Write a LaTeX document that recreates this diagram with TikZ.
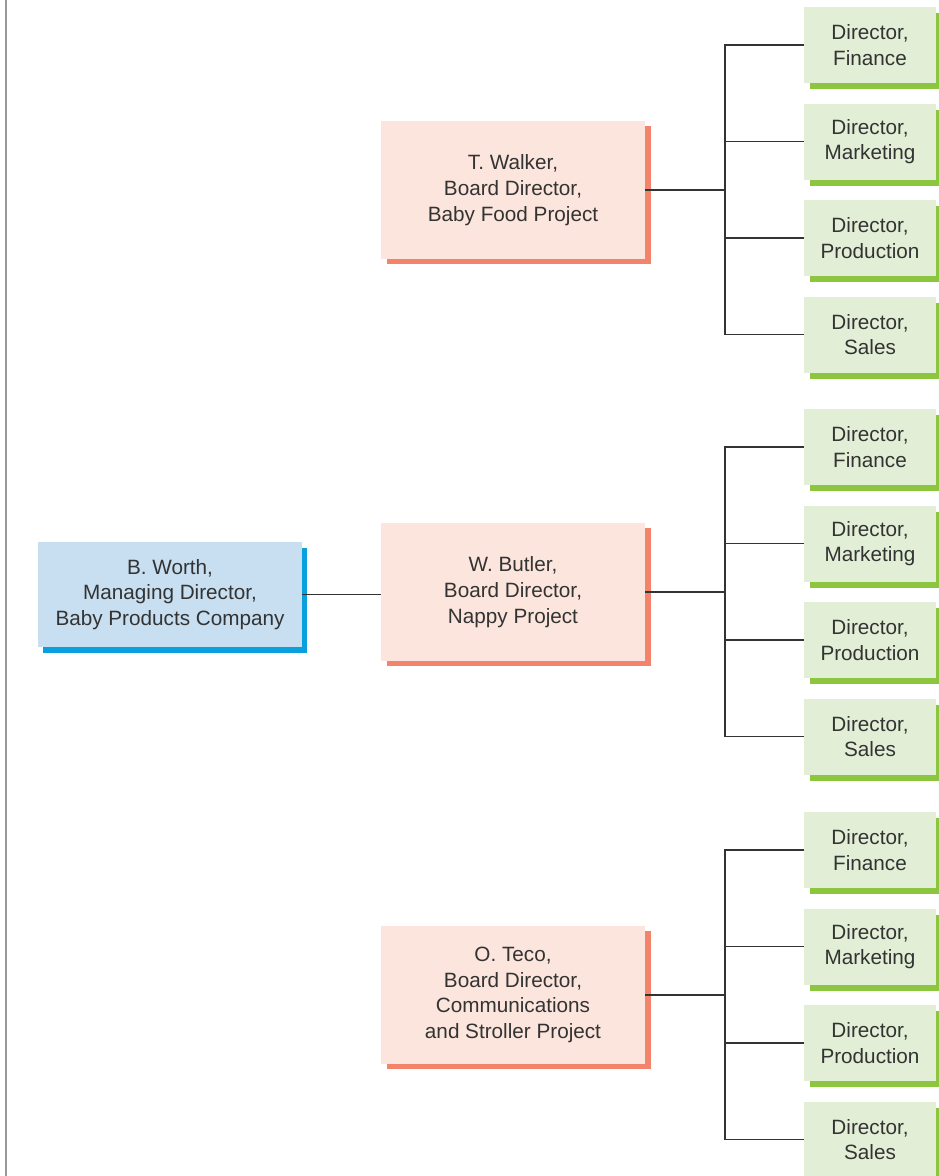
\documentclass[tikz,border=0pt]{standalone}
\usepackage{fontspec}
\setmainfont{Liberation Sans}
\usetikzlibrary{shadows}
\definecolor{txt}{HTML}{333333}
\definecolor{linec}{HTML}{333333}
\definecolor{pinkfill}{HTML}{FCE5DC}
\definecolor{pinkshade}{HTML}{F3836A}
\definecolor{bluefill}{HTML}{C7DFF1}
\definecolor{blueshade}{HTML}{0A9FDD}
\definecolor{greenfill}{HTML}{E2EFD6}
\definecolor{greenshade}{HTML}{8CC63F}
\definecolor{edgegray}{HTML}{999999}
\tikzset{
  boxbase/.style={inner sep=0pt, align=center, text=txt,
    font=\fontsize{20.7pt}{25.7pt}\selectfont},
  topbox/.style={boxbase, fill=bluefill, minimum width=264pt, minimum height=105pt,
    general shadow={fill=blueshade, shadow xshift=5pt, shadow yshift=-6pt}},
  projbox/.style={boxbase, fill=pinkfill, minimum width=264pt, minimum height=138pt,
    general shadow={fill=pinkshade, shadow xshift=6pt, shadow yshift=-5pt}},
  dirbox/.style={boxbase, fill=greenfill, minimum width=132pt, minimum height=76pt,
    general shadow={fill=greenshade, shadow xshift=6pt, shadow yshift=-6pt}},
  conn/.style={draw=linec, line width=1.1pt},
}
\begin{document}
\begin{tikzpicture}[x=1pt,y=-1pt]
\clip (0,0) rectangle (939,1176);
\fill[white] (0,0) rectangle (939,1176);
\draw[edgegray, line width=2pt] (6,-5) -- (6,1185);

\node[topbox] (bw) at (170,594.5) {B. Worth,\\Managing Director,\\Baby Products Company};

\node[projbox] (p1) at (513,190) {T. Walker,\\Board Director,\\Baby Food Project};
\node[projbox] (p2) at (513,592) {W. Butler,\\Board Director,\\Nappy Project};
\node[projbox] (p3) at (513,995) {O. Teco,\\Board Director,\\Communications\\and Stroller Project};

\coordinate (b1) at (725,190);
\coordinate (b2) at (725,592);
\coordinate (b3) at (725,995);

\foreach \g/\y in {1/45, 2/447, 3/850}{
  \node[dirbox] (g\g1) at (870,\y) {Director,\\Finance};
  \node[dirbox] (g\g2) at (870,\y+96.5) {Director,\\Marketing};
  \node[dirbox] (g\g3) at (870,\y+193) {Director,\\Production};
  \node[dirbox] (g\g4) at (870,\y+289.5) {Director,\\Sales};
  \foreach \k in {1,2,3,4}{
    \draw[conn] (p\g.east) -- (b\g) |- (g\g\k.west);
  }
}

\draw[conn] (bw.east) -- (bw.east -| p2.west);
\end{tikzpicture}
\end{document}
